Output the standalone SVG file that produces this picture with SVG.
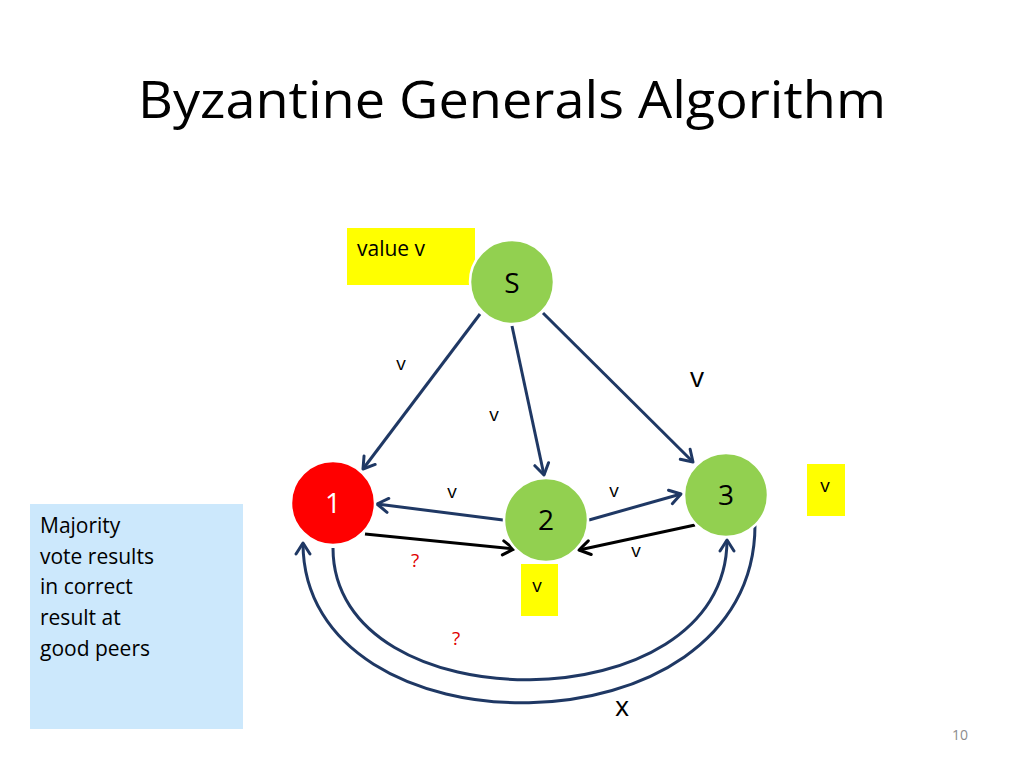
<svg xmlns="http://www.w3.org/2000/svg" width="1024" height="768" viewBox="0 0 1024 768">
<style>
text{font-family:"Open Sans","Noto Sans","Liberation Sans",sans-serif}
.node{stroke:#fff;stroke-width:2.5}
.green{fill:#92D050}
.red{fill:#FF0000}
.lbl{font-size:28px;text-anchor:middle}
.sm{font-size:19px;text-anchor:middle}
.blue{stroke:#1F3864;stroke-width:3;fill:none}
.blk{stroke:#000;stroke-width:3;fill:none}
.q{fill:#E00000;font-size:19px;text-anchor:middle}
.note{font-size:21px}
</style>
<defs>
<marker id="ab" markerUnits="userSpaceOnUse" markerWidth="16" markerHeight="18" refX="13" refY="8" orient="auto" viewBox="0 0 16 16">
<path d="M2,1 L13,8 L2,15" fill="none" stroke="#1F3864" stroke-width="3" stroke-linecap="round" stroke-linejoin="round"/>
</marker>
<marker id="ak" markerUnits="userSpaceOnUse" markerWidth="16" markerHeight="18" refX="13" refY="8" orient="auto" viewBox="0 0 16 16">
<path d="M2,1 L13,8 L2,15" fill="none" stroke="#000" stroke-width="3" stroke-linecap="round" stroke-linejoin="round"/>
</marker>
</defs>
<rect width="1024" height="768" fill="#fff"/>
<text x="512" y="118" font-size="52" text-anchor="middle" textLength="748" lengthAdjust="spacingAndGlyphs">Byzantine Generals Algorithm</text>

<g id="note">
<rect x="30" y="504" width="213" height="225" fill="#CCE8FC"/>
<text class="note" x="40" y="533">Majority</text>
<text class="note" x="40" y="564">vote results</text>
<text class="note" x="40" y="594">in correct</text>
<text class="note" x="40" y="625">result at</text>
<text class="note" x="40" y="656">good peers</text>
</g>

<g id="value-box">
<rect x="347" y="228" width="128" height="57" fill="#FFFF00"/>
<text class="note" x="357" y="256">value v</text>
</g>
<g id="box3">
<rect x="807" y="464" width="38" height="52" fill="#FFFF00"/>
<text class="sm" x="825" y="492">v</text>
</g>
<g id="box2">
<rect x="521" y="564" width="37" height="52" fill="#FFFF00"/>
<text class="sm" x="537" y="592">v</text>
</g>

<g id="connectors">
<line class="blue" x1="480" y1="314" x2="363" y2="469" marker-end="url(#ab)"/>
<line class="blue" x1="512" y1="326" x2="544" y2="475" marker-end="url(#ab)"/>
<line class="blue" x1="543" y1="313" x2="693" y2="462" marker-end="url(#ab)"/>
<line class="blue" x1="503" y1="520" x2="377" y2="504" marker-end="url(#ab)"/>
<line class="blk" x1="365" y1="534" x2="514" y2="549" marker-end="url(#ak)"/>
<line class="blue" x1="589" y1="520" x2="681" y2="494" marker-end="url(#ab)"/>
<line class="blk" x1="695" y1="525" x2="579" y2="550" marker-end="url(#ak)"/>
<path class="blue" d="M333,548 C333,725 727,725 727,540" marker-end="url(#ab)"/>
<path class="blue" d="M755,525 C755,759 303,759 303,543" marker-end="url(#ab)"/>
<text class="sm" x="401" y="370">v</text>
<text class="sm" x="494" y="421">v</text>
<text x="697" y="387" font-size="28" text-anchor="middle">v</text>
<text class="sm" x="452" y="498">v</text>
<text class="sm" x="614" y="497">v</text>
<text class="sm" x="636" y="557">v</text>
<text class="q" x="415" y="567">?</text>
<text class="q" x="456" y="645">?</text>
<text x="622" y="716" font-size="27" text-anchor="middle">x</text>
</g>

<g id="node-S">
<circle class="node green" cx="512" cy="282" r="42"/>
<text class="lbl" x="512" y="293">S</text>
</g>
<g id="node-1">
<circle class="node red" cx="333" cy="503" r="42"/>
<text class="lbl" x="333" y="513" fill="#fff">1</text>
</g>
<g id="node-2">
<circle class="node green" cx="546" cy="520" r="42"/>
<text class="lbl" x="546" y="530">2</text>
</g>
<g id="node-3">
<circle class="node green" cx="726" cy="495" r="42"/>
<text class="lbl" x="726" y="505">3</text>
</g>

<text x="960" y="740" font-size="14" fill="#8c8c8c" text-anchor="middle">10</text>
</svg>
